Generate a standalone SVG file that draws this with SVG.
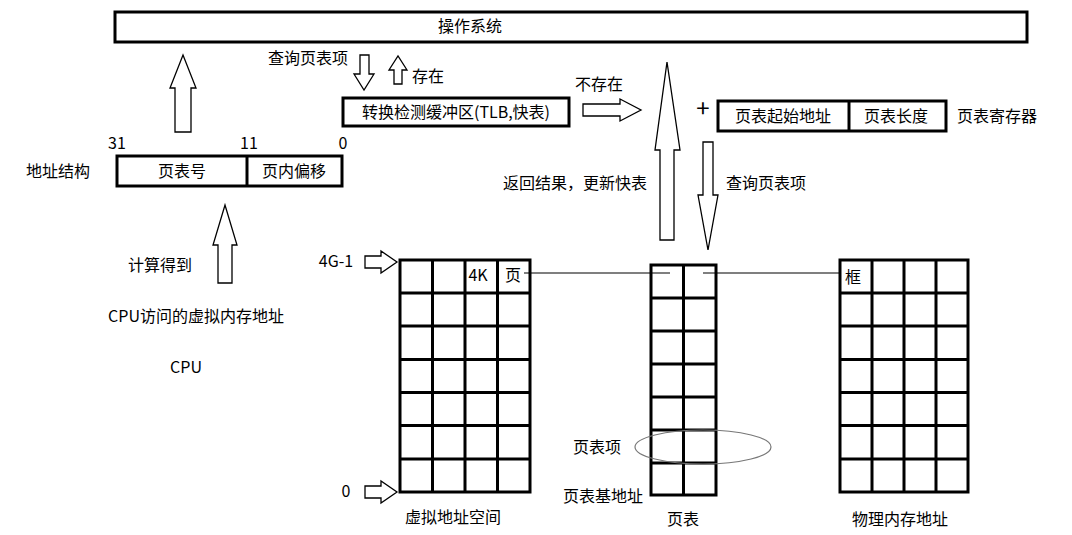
<svg xmlns="http://www.w3.org/2000/svg" width="1072" height="535" viewBox="0 0 1072 535">
<style>
text{font-family:"Noto Sans CJK SC","Noto Sans",sans-serif;font-size:16px;fill:#000;text-anchor:middle}
.box{fill:#fff;stroke:#000;stroke-width:3}
.arr{fill:#fff;stroke:#000;stroke-width:1.3}
.g{fill:none;stroke:#000;stroke-width:3}
</style>
<rect width="1072" height="535" fill="#fff"/>
<g id="os"><rect class="box" x="115" y="12" width="912" height="30"/><text x="470" y="32">操作系统</text></g>
<g id="tlb"><rect class="box" x="343" y="98" width="226" height="28"/><text x="456" y="118">转换检测缓冲区(TLB,快表)</text></g>
<g id="reg"><rect class="box" x="718" y="101" width="228" height="30"/><line class="g" x1="849" y1="101" x2="849" y2="131"/><text x="783" y="122">页表起始地址</text><text x="896" y="122">页表长度</text><text x="997" y="122">页表寄存器</text><text x="703" y="117" style="font-size:24px">+</text></g>
<g id="addr"><rect class="box" x="117" y="156" width="225" height="30"/><line class="g" x1="247" y1="156" x2="247" y2="186"/><text x="182" y="177">页表号</text><text x="294" y="177">页内偏移</text><text x="58" y="177">地址结构</text><text x="117" y="149">31</text><text x="249" y="149">11</text><text x="343" y="149">0</text></g>
<g id="cpu"><text x="160" y="271">计算得到</text><text x="196" y="322">CPU访问的虚拟内存地址</text><text x="186" y="373">CPU</text></g>
<g id="connectors">
<path class="arr" d="M175,132 V88 H170 L183,55 L196,88 H191 V132 Z"/>
<path class="arr" d="M360,55 H369 V74 H374 L364,90 L354,74 H360 Z"/>
<path class="arr" d="M394,84 V70 H389 L398,56 L407,70 H402 V84 Z"/>
<path class="arr" d="M583,104 H620 V99 L641,110 L620,121 V116 H583 Z"/>
<path class="arr" d="M660,240 V150 H655 L667,62 L680,150 H674 V240 Z"/>
<path class="arr" d="M703,142 H713 V195 H718 L708,250 L698,195 H703 Z"/>
<path class="arr" d="M218,283 V245 H213 L225,205 L237,245 H232 V283 Z"/>
<path class="arr" d="M365,256 H381 V251 L397,262 L381,273 V268 H365 Z"/>
<path class="arr" d="M365,486 H381 V481 L397,492 L381,503 V498 H365 Z"/>
<line x1="524" y1="273" x2="670" y2="273" stroke="#000" stroke-width="1.2"/>
<line x1="703" y1="273" x2="840" y2="273" stroke="#000" stroke-width="1.2"/>
</g>
<text x="308" y="64">查询页表项</text><text x="428" y="82">存在</text><text x="599" y="90">不存在</text>
<text x="575" y="189">返回结果，更新快表</text><text x="766" y="189">查询页表项</text>
<g id="vspace">
<rect class="g" x="400" y="260" width="130" height="232"/>
<path class="g" d="M432.5,260V492M465,260V492M497.5,260V492M400,293H530M400,326H530M400,359.5H530M400,392.5H530M400,425.5H530M400,459H530"/>
<text x="478" y="281">4K</text><text x="513" y="281">页</text>
<text x="336" y="267">4G-1</text><text x="346" y="497">0</text><text x="453" y="523">虚拟地址空间</text>
</g>
<g id="ptable">
<rect class="g" x="651" y="265" width="65" height="230"/>
<path class="g" d="M683.5,265V495M651,298H716M651,331H716M651,364H716M651,397H716M651,430H716M651,463H716"/>
<ellipse cx="703" cy="447" rx="68" ry="17" fill="none" stroke="#777" stroke-width="1.2"/>
<text x="597" y="453">页表项</text><text x="603" y="502">页表基地址</text><text x="683" y="525">页表</text>
</g>
<g id="phys">
<rect class="g" x="840" y="260" width="128" height="232"/>
<path class="g" d="M872,260V492M904,260V492M936,260V492M840,293H968M840,326H968M840,359.5H968M840,392.5H968M840,425.5H968M840,459H968"/>
<text x="853" y="283">框</text><text x="900" y="525">物理内存地址</text>
</g>
</svg>
